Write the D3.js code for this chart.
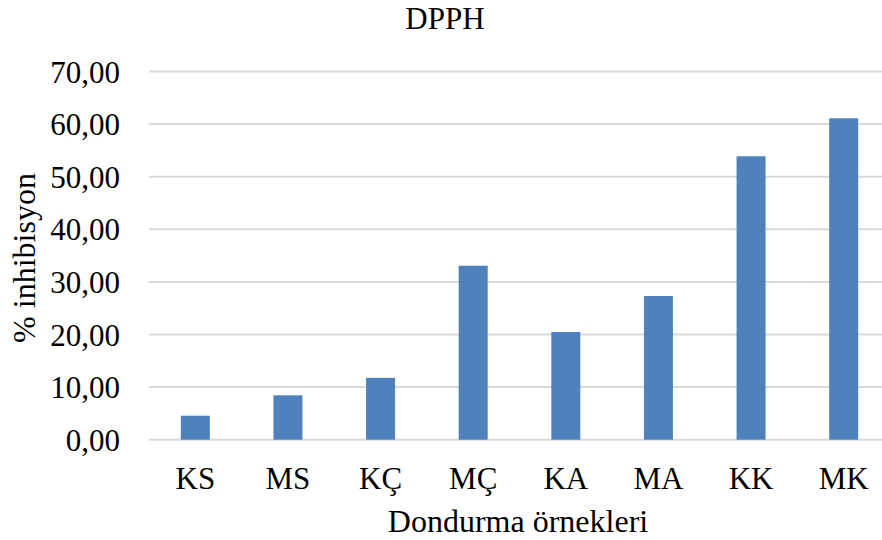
<!DOCTYPE html>
<html>
<head>
<meta charset="utf-8">
<script src="https://cdn.jsdelivr.net/npm/d3@7"></script>
<style>
  html, body { margin: 0; padding: 0; background: #fff; }
  text { font-family: "Liberation Serif", "Times New Roman", serif; fill: #000; }
</style>
</head>
<body>
<svg id="chart" width="882" height="540"></svg>
<script>
// DPPH radical scavenging (% inhibition) per ice-cream sample
const categories = ["KS", "MS", "KÇ", "MÇ", "KA", "MA", "KK", "MK"];
const inhibition = [4.56, 8.44, 11.75, 33.08, 20.48, 27.32, 53.88, 61.10];
const yTicks = [0, 10, 20, 30, 40, 50, 60, 70];

const svg = d3.select("#chart");
const plot = { left: 149, right: 890, top: 71.5, bottom: 439.7 };

const x = d3.scaleBand()
  .domain(categories)
  .range([plot.left, plot.right])
  .paddingInner(0.687)
  .paddingOuter(0.3435);

const y = d3.scaleLinear()
  .domain([0, 70])
  .range([plot.bottom, plot.top]);

const fmt = v => v.toFixed(2).replace(".", ",");

// horizontal gridlines
svg.append("g")
  .selectAll("line")
  .data(yTicks)
  .join("line")
  .attr("x1", plot.left)
  .attr("x2", 882)
  .attr("y1", d => y(d))
  .attr("y2", d => y(d))
  .attr("stroke", "#d9d9d9")
  .attr("stroke-width", 2);

// y tick labels
const yAxis = d3.axisLeft(y).tickValues(yTicks).tickFormat(fmt).tickSize(0).tickPadding(0);
const gy = svg.append("g").attr("transform", "translate(120,0)").call(yAxis);
gy.select(".domain").remove();
gy.selectAll("text")
  .attr("font-family", "Liberation Serif")
  .attr("font-size", 31)
  .attr("fill", "#000")
  .attr("dy", "0.34em");

// bars
svg.append("g")
  .selectAll("rect")
  .data(categories.map((c, i) => ({ c, v: inhibition[i] })))
  .join("rect")
  .attr("x", d => x(d.c))
  .attr("width", x.bandwidth())
  .attr("y", d => y(d.v))
  .attr("height", d => y(0) - y(d.v))
  .attr("fill", "#4f81bd");

// x category labels
const xAxis = d3.axisBottom(x).tickSize(0).tickPadding(0);
const gx = svg.append("g").attr("transform", `translate(0,${plot.bottom})`).call(xAxis);
gx.select(".domain").remove();
gx.selectAll("text")
  .attr("font-family", "Liberation Serif")
  .attr("font-size", 31)
  .attr("fill", "#000")
  .attr("dy", null)
  .attr("y", 49);

// title
svg.append("text")
  .attr("x", 445)
  .attr("y", 29)
  .attr("text-anchor", "middle")
  .attr("font-size", 31)
  .text("DPPH");

// axis titles
svg.append("text")
  .attr("x", 518)
  .attr("y", 532)
  .attr("text-anchor", "middle")
  .attr("font-size", 32)
  .text("Dondurma örnekleri");

svg.append("text")
  .attr("transform", "translate(35,258) rotate(-90)")
  .attr("text-anchor", "middle")
  .attr("font-size", 32)
  .text("% inhibisyon");
</script>
</body>
</html>
